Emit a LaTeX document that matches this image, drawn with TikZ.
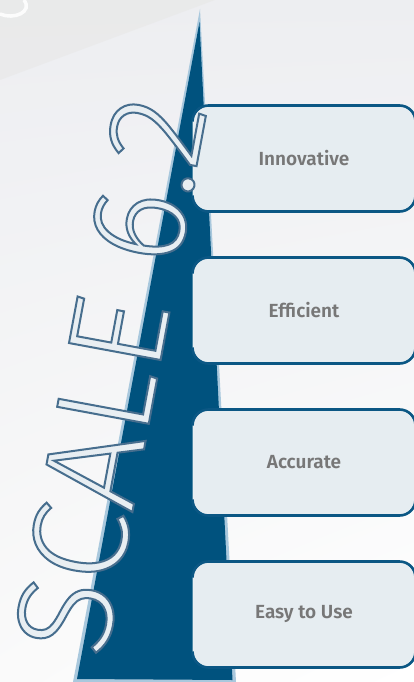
\documentclass[tikz,border=0pt]{standalone}
\usepackage{fontspec}
\usetikzlibrary{calc,shadings}
\newfontfamily\scalefnt{Fira Sans Light}
\newfontfamily\boxfnt{Fira Sans SemiBold}
\definecolor{needle}{HTML}{00527E}
\definecolor{needleedge}{HTML}{A9C8DD}
\definecolor{boxfill}{HTML}{E6EDF1}
\definecolor{boxedge}{HTML}{0B5784}
\definecolor{boxtext}{HTML}{777777}
\definecolor{scalefill}{HTML}{E8EEF2}
\definecolor{bgtop}{HTML}{EDEEF1}
\definecolor{bgbot}{HTML}{FAFAFA}
\definecolor{bgband}{HTML}{E7E7E6}
\newcommand\outlinedtext[1]{\special{pdf:literal direct 2 Tr 2.0 w 0.278 0.431 0.557 RG}#1\special{pdf:literal direct 0 Tr}}
\tikzset{
  featbox/.style={draw=boxfill!80!white, line width=1pt, fill=boxfill, rounded corners=16pt,
    minimum width=222pt, minimum height=105pt, inner sep=0pt,
    font=\boxfnt\fontsize{19}{22}\selectfont, text=boxtext},
  featedge/.style={draw=boxedge, line width=2.6pt, rounded corners=16pt},
}
\begin{document}
\begin{tikzpicture}[x=1pt,y=-1pt]
\useasboundingbox (0,0) rectangle (414,682);
% background
\shade[upper left=bgtop, upper right=bgtop, lower left=bgbot, lower right=white] (0,0) rectangle (414,682);
\fill[bgband, opacity=0.55] (0,0) -- (215,0) -- (0,80) -- cycle;
\draw[white, line width=3.5pt, opacity=0.9] (0,14) .. controls (14,20) and (33,12) .. (24,0);
% needle
\fill[needleedge] (200,9) -- (236,682) -- (73,682) -- cycle;
\fill[needle] (199.5,22) -- (232.5,680) -- (77,679) -- cycle;
% boxes
\node[featbox] (b1) at (304,158.5) {Innovative};
\node[featbox] (b2) at (304,310.5) {Efficient};
\node[featbox] (b3) at (304,462.5) {Accurate};
\node[featbox] (b4) at (304,614.5) {Easy to Use};
\foreach \b in {b1,b2,b3,b4}{
  \draw[featedge] ($(\b.north west)+(0,16)$) -- (\b.north west) -- (\b.north east) -- (\b.south east) -- (\b.south west) -- ($(\b.south west)+(0,-16)$);
}
% title
\node[rotate=79.5, anchor=base west, inner sep=0pt, text=scalefill] (title) at (105,660)
  {\scalefnt\fontsize{136}{140}\selectfont\color{scalefill}\outlinedtext{SCALE 6.2}};
\end{tikzpicture}
\end{document}
